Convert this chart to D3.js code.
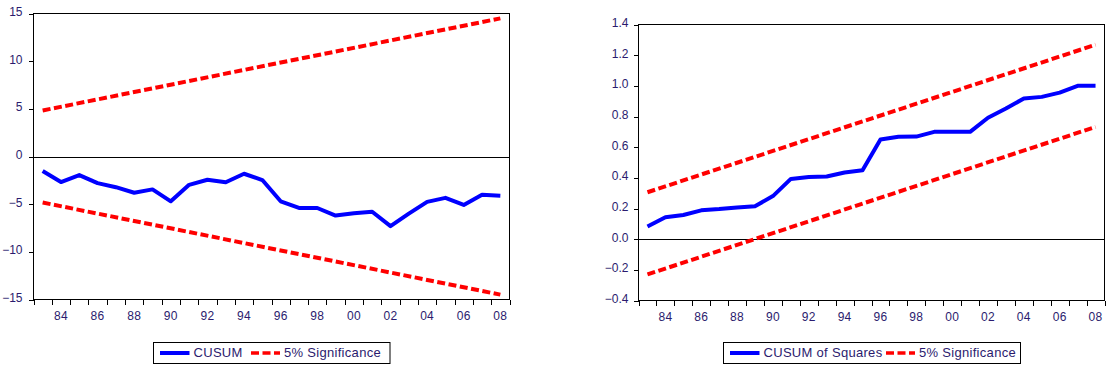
<!DOCTYPE html>
<html>
<head>
<meta charset="utf-8">
<script src="https://cdn.jsdelivr.net/npm/d3@7"></script>
<style>
  body { margin: 0; background: #fff; }
  svg { display: block; }
  text { font-family: "Liberation Sans", Arial, sans-serif; fill: #2b1b6e; }
</style>
</head>
<body>
<svg id="chart" width="1114" height="375"></svg>
<script>
// data
const years = d3.range(1983, 2009);
const cusum = [-1.53, -2.68, -1.95, -2.79, -3.22, -3.8, -3.45, -4.7, -2.97, -2.44, -2.7,
  -1.81, -2.47, -4.7, -5.4, -5.4, -6.2, -5.95, -5.8, -7.3, -5.99, -4.76, -4.34, -5.08, -4.02, -4.11];
const cusumSq = [0.083, 0.143, 0.158, 0.188, 0.196, 0.207, 0.215, 0.281, 0.393, 0.405, 0.409,
  0.435, 0.45, 0.65, 0.668, 0.669, 0.7, 0.7, 0.7, 0.792, 0.852, 0.918, 0.928, 0.956, 1.0, 1.0];
const boundYears = [1983, 2008];
const cusumUpper = [4.83, 14.49];
const cusumLower = [-4.83, -14.49];
const sqUpper = [0.306, 1.268];
const sqLower = [-0.23, 0.732];
const leftYTicks = [15, 10, 5, 0, -5, -10, -15];
const rightYTicks = [1.4, 1.2, 1.0, 0.8, 0.6, 0.4, 0.2, 0.0, -0.2, -0.4];
const labelYears = [1984, 1986, 1988, 1990, 1992, 1994, 1996, 1998, 2000, 2002, 2004, 2006, 2008];
const xLabels = ["84", "86", "88", "90", "92", "94", "96", "98", "00", "02", "04", "06", "08"];

const svg = d3.select("#chart");
const BLUE = "#0000ff", RED = "#ff0000";

function panel(o) {
  const g = svg.append("g");
  // x: year bands, edges on a linear scale, points at band centres
  const x = d3.scaleLinear().domain([1983, 2009]).range([o.left, o.right]);
  const y = d3.scaleLinear().domain(o.yDomain).range([o.bottom, o.top]);
  const cx = yr => x(yr + 0.5);

  // x ticks at band edges
  g.append("g")
    .attr("transform", `translate(0,${o.bottom})`)
    .call(d3.axisBottom(x).tickValues(d3.range(1983, 2010)).tickSize(5).tickFormat(""))
    .call(a => a.select(".domain").remove())
    .call(a => a.selectAll("line").attr("stroke", "#000").attr("shape-rendering", "crispEdges"));

  g.selectAll(".xl").data(labelYears).join("text")
    .attr("x", d => cx(d))
    .attr("y", o.bottom + 20.5)
    .attr("text-anchor", "middle")
    .style("font-size", "12px")
    .style("letter-spacing", "0.3px")
    .text((d, i) => xLabels[i]);

  // y axis
  g.append("g")
    .attr("transform", `translate(${o.left},0)`)
    .call(d3.axisLeft(y).tickValues(o.yTicks).tickSize(5).tickPadding(o.pad).tickFormat(o.fmt))
    .call(a => a.select(".domain").remove())
    .call(a => a.selectAll("line").attr("stroke", "#000").attr("shape-rendering", "crispEdges"))
    .call(a => a.selectAll("text")
      .attr("dy", null).attr("y", 2)
      .style("font-size", "12px")
      .style("font-family", "'Liberation Sans', Arial, sans-serif")
      .attr("fill", "#2b1b6e"));

  // zero line
  g.append("line")
    .attr("x1", o.left).attr("x2", o.right)
    .attr("y1", Math.round(y(0)) + 0.5).attr("y2", Math.round(y(0)) + 0.5)
    .attr("stroke", "#000").attr("stroke-width", 1);

  // significance bounds
  const bLine = d3.line().x(d => cx(d[0])).y(d => y(d[1]));
  [o.upper, o.lower].forEach(b => {
    g.append("path")
      .attr("d", bLine(boundYears.map((yr, i) => [yr, b[i]])))
      .attr("fill", "none")
      .attr("stroke", RED)
      .attr("stroke-width", 4)
      .attr("stroke-dasharray", "8,3.5");
  });

  // main series
  g.append("path")
    .attr("d", d3.line().x((d, i) => cx(years[i])).y(d => y(d))(o.series))
    .attr("fill", "none")
    .attr("stroke", BLUE)
    .attr("stroke-width", 4)
    .attr("stroke-linejoin", "round");

  // frame
  g.append("rect")
    .attr("x", o.left).attr("y", o.top)
    .attr("width", o.right - o.left).attr("height", o.bottom - o.top)
    .attr("fill", "none").attr("stroke", "#000").attr("stroke-width", 1)
    .attr("shape-rendering", "crispEdges");

  // legend
  const L = o.legend;
  const lg = svg.append("g");
  lg.append("rect")
    .attr("x", L.x).attr("y", 342.5).attr("width", L.w).attr("height", 21)
    .attr("fill", "#fff").attr("stroke", "#000").attr("stroke-width", 1);
  lg.append("line")
    .attr("x1", L.x + 6.5).attr("x2", L.x + 36)
    .attr("y1", 353).attr("y2", 353)
    .attr("stroke", BLUE).attr("stroke-width", 4);
  lg.append("text")
    .attr("x", L.x + 40).attr("y", 357)
    .style("font-size", "13px")
    .style("letter-spacing", "0.3px")
    .text(L.name);
  lg.append("line")
    .attr("x1", L.redX).attr("x2", L.redX + 29)
    .attr("y1", 353).attr("y2", 353)
    .attr("stroke", RED).attr("stroke-width", 3.5)
    .attr("stroke-dasharray", "8,3.5");
  lg.append("text")
    .attr("x", L.redX + 33).attr("y", 357)
    .style("font-size", "13px")
    .style("letter-spacing", "0.3px")
    .text("5% Significance");
}

panel({
  left: 33.5, right: 509.5, top: 13.5, bottom: 299.5,
  yDomain: [-15, 15], yTicks: leftYTicks, fmt: d3.format("d"), pad: 6,
  series: cusum, upper: cusumUpper, lower: cusumLower,
  legend: { x: 153.5, w: 236.5, name: "CUSUM", redX: 251 }
});

panel({
  left: 638.5, right: 1104.5, top: 24.5, bottom: 300.5,
  yDomain: [-0.4, 1.4], yTicks: rightYTicks, fmt: d3.format(".1f"), pad: 5,
  series: cusumSq, upper: sqUpper, lower: sqLower,
  legend: { x: 723.5, w: 297, name: "CUSUM of Squares", redX: 886 }
});
</script>
</body>
</html>
